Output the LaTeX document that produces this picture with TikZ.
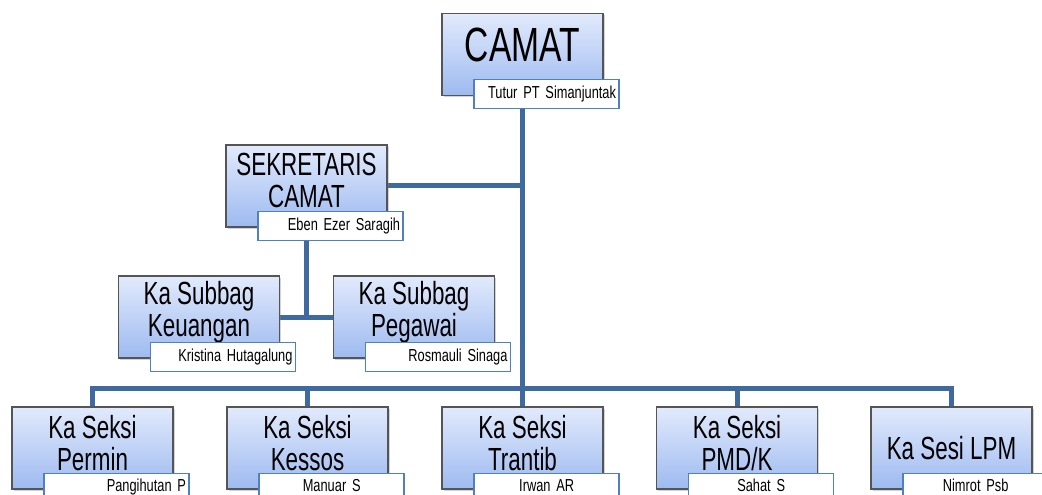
\documentclass[tikz,border=0pt]{standalone}
\usepackage{fontspec}
\setmainfont{Liberation Sans}[FakeStretch=0.7]
\newfontfamily\personfont{Liberation Sans}[FakeStretch=0.74]
\usetikzlibrary{shadows,backgrounds}

\definecolor{linkblue}{RGB}{62,106,160}
\definecolor{tagblue}{RGB}{79,129,189}
\definecolor{boxtop}{RGB}{226,234,252}
\definecolor{boxbottom}{RGB}{158,186,240}
\definecolor{boxedge}{RGB}{85,85,85}

\tikzset{
  unitbox/.style={draw=boxedge, line width=0.8pt,
    top color=boxtop, bottom color=boxbottom,
    minimum width=120.75pt, minimum height=61.5pt, inner sep=0pt,
    drop shadow={shadow xshift=1.2pt, shadow yshift=-1.5pt, opacity=0.35}},
  unittext/.style={align=center, inner sep=0pt, yshift=3.5pt,
    font=\fontsize{24}{24}\selectfont},
  headtext/.style={unittext, yshift=3.75pt, font=\fontsize{36}{36}\selectfont},
  tagbox/.style={draw=tagblue, line width=1.1pt, fill=white,
    minimum width=108.75pt, minimum height=21.75pt, inner sep=0pt,
    anchor=north west, xshift=24pt, yshift=12.75pt,
    font=\personfont\fontsize{13}{13}\selectfont},
  tagright/.style={tagbox, text width=104pt, align=right},
  tagmid/.style={tagbox, text width=104pt, align=center},
  lowtag/.style={text depth=3.5pt},
  link/.style={draw=linkblue, line width=3.75pt, line join=miter}
}

\begin{document}
\begin{tikzpicture}[x=0.75pt, y=-0.75pt]
  \useasboundingbox (0,0) rectangle (1042,495);
  \clip (0,0) rectangle (1042,495);

  % height of the bus that feeds the five sections
  \coordinate (bus) at (0,388);

  % head of the district
  \node[unitbox, label={[headtext]center:CAMAT}] (camat) at (522.5,54.5) {};
  \node[tagright] (camat-n) at (camat.south west) {Tutur PT Simanjuntak};

  % secretary
  \node[unitbox, label={[unittext, yshift=1pt]center:SEKRETARIS\\CAMAT}] (sek) at (306.5,186) {};
  \node[tagright] (sek-n) at (sek.south west) {Eben Ezer Saragih};

  % sub-divisions under the secretary
  \node[unitbox, label={[unittext]center:Ka Subbag\\Keuangan}] (keu) at (199,317) {};
  \node[tagright] (keu-n) at (keu.south west) {Kristina Hutagalung};
  \node[unitbox, label={[unittext]center:Ka Subbag\\Pegawai}] (peg) at (414,317) {};
  \node[tagright] (peg-n) at (peg.south west) {Rosmauli Sinaga};

  % sections
  \node[unitbox, label={[unittext]center:Ka Seksi\\Permin}] (permin) at (92.5,448) {};
  \node[tagright, lowtag] (permin-n) at (permin.south west) {Pangihutan P};
  \node[unitbox, label={[unittext]center:Ka Seksi\\Kessos}] (kessos) at (307.5,448) {};
  \node[tagmid, lowtag] (kessos-n) at (kessos.south west) {Manuar S};
  \node[unitbox, label={[unittext]center:Ka Seksi\\Trantib}] (trantib) at (522.5,448) {};
  \node[tagmid, lowtag] (trantib-n) at (trantib.south west) {Irwan AR};
  \node[unitbox, label={[unittext]center:Ka Seksi\\PMD/K}] (pmd) at (737,448) {};
  \node[tagmid, lowtag] (pmd-n) at (pmd.south west) {Sahat S};
  \node[unitbox, label={[unittext, yshift=-3.5pt]center:Ka Sesi LPM}] (lpm) at (951.5,448) {};
  \node[tagmid, lowtag] (lpm-n) at (lpm.south west) {Nimrot Psb};

  % connectors, kept behind the boxes
  \begin{scope}[on background layer]
    \draw[link] (camat.south) -- (camat.south |- bus);
    \draw[link] (sek.east) -- (sek.east -| camat.south);
    \draw[link] (sek.south) -- (sek.south |- keu.east);
    \draw[link] (keu.east) -- (peg.west);
    \draw[link] (permin.north) -- (permin.north |- bus) -- (lpm.north |- bus) -- (lpm.north);
    \draw[link] (kessos.north |- bus) -- (kessos.north);
    \draw[link] (trantib.north |- bus) -- (trantib.north);
    \draw[link] (pmd.north |- bus) -- (pmd.north);
  \end{scope}
\end{tikzpicture}
\end{document}
